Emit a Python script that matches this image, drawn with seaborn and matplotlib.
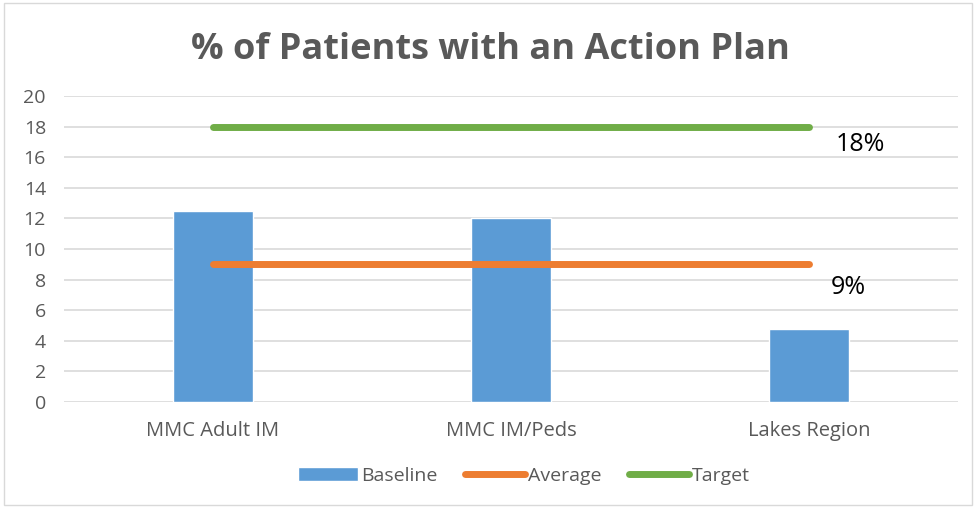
import matplotlib
matplotlib.use("Agg")
import matplotlib.pyplot as plt
import seaborn as sns
import pandas as pd
from matplotlib.patches import Rectangle
from matplotlib.lines import Line2D
from matplotlib.patches import Patch

categories = ["MMC Adult IM", "MMC IM/Peds", "Lakes Region"]
baseline = [12.5, 12.0, 4.8]
average = [9, 9, 9]
target = [18, 18, 18]
yticks = [0, 2, 4, 6, 8, 10, 12, 14, 16, 18, 20]
title = "% of Patients with an Action Plan"

sns.set_theme(style="white")
plt.rcParams['font.family'] = ['Open Sans', 'DejaVu Sans']

fig = plt.figure(figsize=(9.76, 5.07), dpi=100)
ax = fig.add_axes([64/976, 1-402/507, (958-64)/976, (402-96)/507])

df = pd.DataFrame({"cat": categories, "val": baseline})
sns.barplot(data=df, x="cat", y="val", color="#5B9BD5", saturation=1, width=0.27, ax=ax, zorder=2)

ax.plot(categories, average, color="#ED7D31", lw=5, solid_capstyle="round", zorder=3)
ax.plot(categories, target, color="#70AD47", lw=5, solid_capstyle="round", zorder=3)

ax.set_ylim(0, 20)
ax.set_xlim(-0.5, 2.5)
ax.set_yticks(yticks)
ax.set_yticklabels([str(v) for v in yticks])
ax.grid(axis="y", color="#D9D9D9", lw=1.2, zorder=0)
ax.set_axisbelow(True)
for s in ax.spines.values():
    s.set_visible(False)
ax.set_xlabel("")
ax.set_ylabel("")
ax.tick_params(axis="y", colors="#595959", labelsize=14, length=0, pad=13)
ax.tick_params(axis="x", colors="#595959", labelsize=14.5, length=0, pad=14)

fig.text(490/976, 1-50/507, title, ha="center", va="center", fontsize=26,
         fontweight="bold", color="#595959")

ax.annotate(f"{target[0]}%", xy=(2, target[0]), xytext=(19, -13), textcoords="offset points",
            ha="left", va="center", fontsize=18, color="black")
ax.annotate(f"{average[0]}%", xy=(2, average[0]), xytext=(16, -17), textcoords="offset points",
            ha="left", va="center", fontsize=18, color="black")

handles = [Patch(facecolor="#5B9BD5", label="Baseline"),
           Line2D([0], [0], color="#ED7D31", lw=5, solid_capstyle="round", label="Average"),
           Line2D([0], [0], color="#70AD47", lw=5, solid_capstyle="round", label="Target")]
fig.legend(handles=handles, loc="center", bbox_to_anchor=(524/976, 1-476/507), ncol=3,
           frameon=False, fontsize=14, handlelength=3.1, handletextpad=0.15, columnspacing=1.4,
           labelcolor="#595959")

fig.patches.append(Rectangle((0.004, 0.004), 0.992, 0.99, transform=fig.transFigure,
                             fill=False, edgecolor="#D9D9D9", lw=1))

fig.savefig("out.png", dpi=100)
